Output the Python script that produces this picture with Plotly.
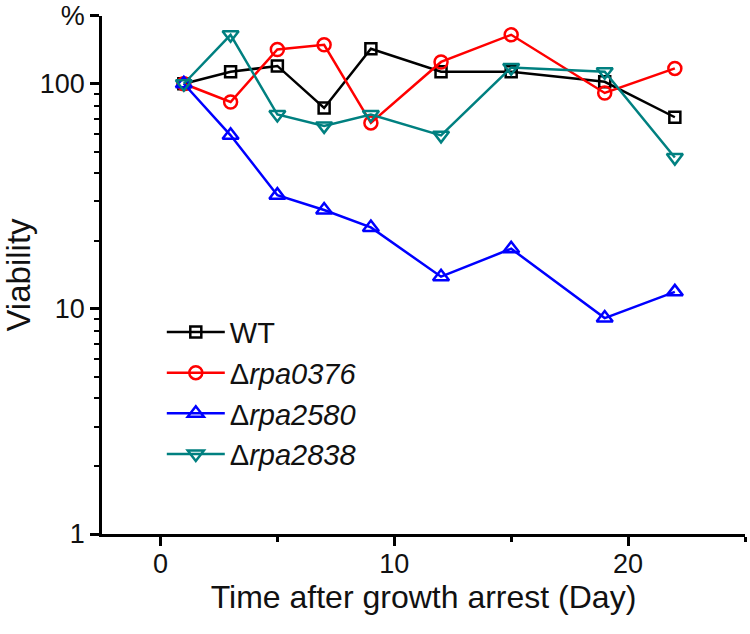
import plotly.graph_objects as go

days = [1, 3, 5, 7, 9, 12, 15, 19, 22]
wt = [100, 113, 120, 78, 143, 113, 113, 102, 71]
rpa0376 = [100, 83, 142, 149, 67, 125, 165, 91, 117]
rpa2580 = [100, 59, 32, 27.5, 23, 13.9, 18.5, 9.1, 11.9]
rpa2838 = [100, 165, 73, 65, 73, 59, 118, 113, 47]

y_tickvals = [1, 10, 100, 200]
y_ticktext = ["1", "10", "100", "%"]
x_tickvals = [0, 10, 20]
x_minor_tickvals = [5, 15, 25]

names = ["WT", "Δ<i>rpa0376</i>", "Δ<i>rpa2580</i>", "Δ<i>rpa2838</i>"]
colors = ["#000000", "#FF0000", "#0000FF", "#008080"]
symbols = ["square-open", "circle-open", "triangle-up-open", "triangle-down-open"]
sizes = [11, 13, 14, 14]
series = [wt, rpa0376, rpa2580, rpa2838]

fig = go.Figure()
for name, col, sym, sz, ys in zip(names, colors, symbols, sizes, series):
    fig.add_trace(go.Scatter(
        x=days, y=ys, name=name, mode="lines+markers",
        line=dict(color=col, width=2.5),
        marker=dict(symbol=sym, size=sz, color=col, line=dict(color=col, width=2.5)),
    ))

FONT = "Arial, Liberation Sans, sans-serif"
fig.update_layout(
    width=750, height=634,
    margin=dict(l=102, r=5, t=16, b=100),
    paper_bgcolor="white", plot_bgcolor="white",
    font=dict(family=FONT, color="#111111", size=27),
    showlegend=True,
    legend=dict(
        x=0.093, y=0.439, xanchor="left", yanchor="top",
        font=dict(size=29, family=FONT, color="#111111"),
        itemwidth=58, tracegroupgap=0, bgcolor="rgba(0,0,0,0)",
    ),
    xaxis=dict(
        range=[-2.5, 25], tickvals=x_tickvals, showgrid=False, zeroline=False,
        automargin=False,
        showline=True, linecolor="black", linewidth=2.5,
        ticks="outside", ticklen=9, tickwidth=2.5, tickcolor="black",
        tickfont=dict(size=27), ticklabelstandoff=-5,
        minor=dict(tickvals=x_minor_tickvals, ticks="outside", ticklen=5, tickwidth=2.5, tickcolor="black"),
        title=dict(text="Time after growth arrest (Day)", font=dict(size=32), standoff=0),
    ),
    yaxis=dict(
        type="log", range=[0, 2.301], tickvals=y_tickvals, ticktext=y_ticktext,
        showgrid=False, zeroline=False, automargin=False,
        showline=True, linecolor="black", linewidth=2.5,
        ticks="outside", ticklen=9, tickwidth=2.5, tickcolor="black",
        tickfont=dict(size=27),
        minor=dict(dtick="D1", ticks="outside", ticklen=5, tickwidth=2, tickcolor="black"),
        title=dict(text="Viability", font=dict(size=33), standoff=12),
    ),
)

# remove the browser's default 8px body margin so the figure fills the window exactly
fig.write_html(
    "out.html",
    config={"displayModeBar": False},
    post_script="document.body.style.margin='0';",
)
